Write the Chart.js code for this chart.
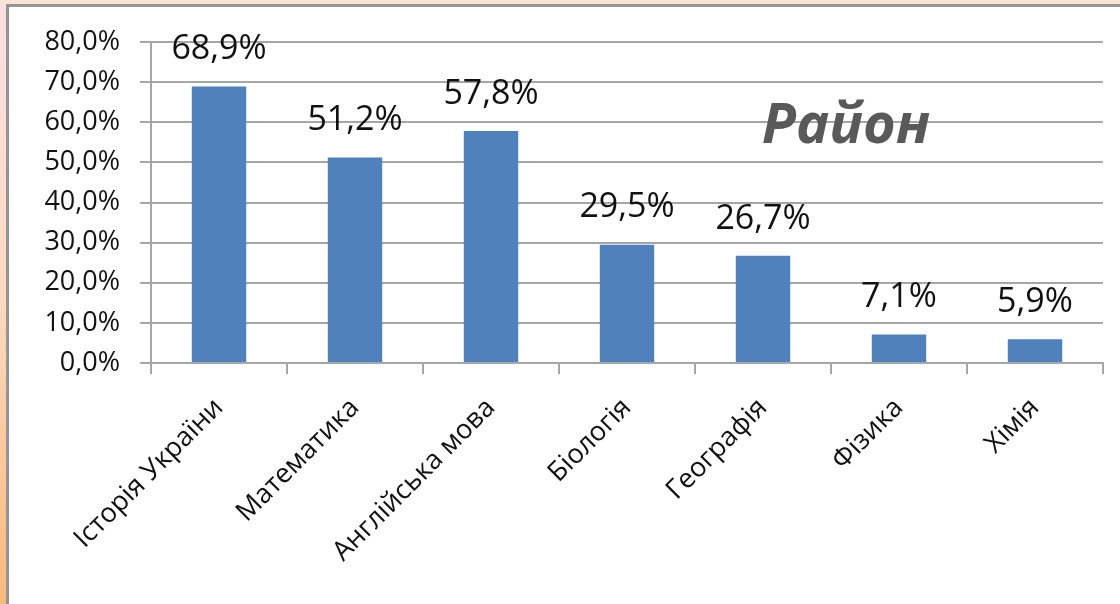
<!DOCTYPE html>
<html>
<head>
<meta charset="UTF-8">
<title>Район</title>
<script src="https://cdn.jsdelivr.net/npm/chart.js@4"></script>
<style>
  *{padding:0; margin:0;}
  body{background:#fff; width:1120px; height:604px; overflow:hidden;}
  canvas{display:block;}
</style>
</head>
<body>
<canvas id="myChart" width="1120" height="604"></canvas>
<script>
// дані діаграми
const subjects = ['Історія України', 'Математика', 'Англійська мова', 'Біологія', 'Географія', 'Фізика', 'Хімія'];
const percents = [68.9, 51.2, 57.8, 29.5, 26.7, 7.1, 5.9];
const yTicks = [0, 10, 20, 30, 40, 50, 60, 70, 80];
const chartTitle = 'Район';

function fmt(v){ return v.toFixed(1).replace('.', ',') + '%'; }

// рамка слайду (рожево-помаранчева смуга зліва і зверху)
const framePlugin = {
  id: 'frame',
  beforeDraw(chart){
    const c = chart.ctx;
    c.save();
    c.fillStyle = '#fff';
    c.fillRect(0, 0, chart.width, chart.height);
    let g = c.createLinearGradient(0, 0, 0, chart.height);
    g.addColorStop(0, '#fbe0e4');
    g.addColorStop(0.5, '#fcd9c0');
    g.addColorStop(1, '#fbb97c');
    c.fillStyle = g;
    c.fillRect(0, 0, 6, chart.height);
    c.fillStyle = '#fde3d6';
    c.fillRect(0, 0, chart.width, 4);
    c.fillStyle = '#959595';
    c.fillRect(6, 4, 3, chart.height);
    c.fillRect(6, 4, chart.width, 3);
    c.restore();
  }
};

// підписи значень над стовпчиками + заголовок
const labelPlugin = {
  id: 'valueLabels',
  afterDatasetsDraw(chart){
    const c = chart.ctx;
    const meta = chart.getDatasetMeta(0);
    c.save();
    c.fillStyle = '#111';
    c.font = '34px "Open Sans"';
    c.textAlign = 'center';
    c.textBaseline = 'middle';
    meta.data.forEach((bar, i) => {
      c.fillText(fmt(percents[i]), bar.x, bar.y - 37);
    });
    c.fillStyle = '#595959';
    c.font = 'italic bold 56px "Open Sans"';
    c.fillText(chartTitle, 846, 127);
    c.restore();
  }
};

const ctx = document.getElementById('myChart');
new Chart(ctx, {
  type: 'bar',
  data: {
    labels: subjects,
    datasets: [{
      data: percents,
      backgroundColor: '#4f81bd',
      borderWidth: 0,
      barPercentage: 0.8,
      categoryPercentage: 0.5
    }]
  },
  options: {
    responsive: false,
    animation: false,
    devicePixelRatio: 1,
    layout: { padding: { top: 42, right: 17, left: 0, bottom: 0 } },
    plugins: { legend: { display: false }, tooltip: { enabled: false } },
    scales: {
      y: {
        min: 0,
        max: 80,
        afterFit(s){ s.width = 151; },
        afterBuildTicks(s){ s.ticks = yTicks.map(v => ({ value: v })); },
        ticks: {
          padding: 20,
          color: '#111',
          font: { family: 'Open Sans', size: 27 },
          callback: v => fmt(v)
        },
        grid: { color: '#a6a6a6', lineWidth: 2, tickLength: 11 },
        border: { color: '#a6a6a6', width: 2 }
      },
      x: {
        afterFit(s){ s.height = 241; },
        ticks: {
          autoSkip: false,
          minRotation: 45,
          maxRotation: 45,
          padding: 18,
          color: '#111',
          font: { family: 'Open Sans', size: 27 }
        },
        grid: { drawOnChartArea: false, color: '#a6a6a6', lineWidth: 2, tickLength: 11 },
        border: { color: '#a6a6a6', width: 2 }
      }
    }
  },
  plugins: [framePlugin, labelPlugin]
});
</script>
</body>
</html>
